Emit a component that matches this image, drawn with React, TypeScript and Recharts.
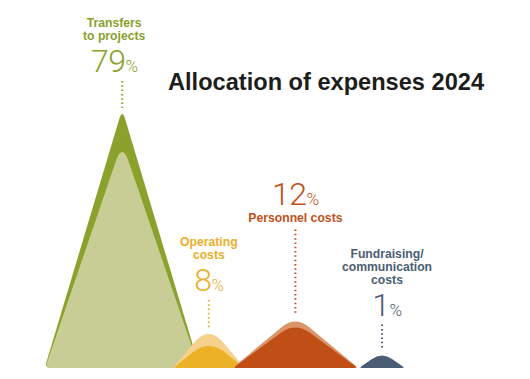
import React from 'react';
import { BarChart, Bar, XAxis, YAxis, LabelList } from 'recharts';

// ---- data ----
const categories = [
  'Transfers\nto projects',
  'Operating\ncosts',
  'Personnel costs',
  'Fundraising/\ncommunication\ncosts',
];
const shares = [79, 8, 12, 1];
const title = 'Allocation of expenses 2024';

const data = categories.map((name, i) => ({ name, share: shares[i] }));

// ---- styles (per category) ----
const STYLES = [
  { outer: '#8aa22b', inner: '#c8cd95', text: '#8a9f2c', hw: 77.5, tip: 10, corner: 6, innerDepth: 38, innerTip: 20, leader: 27, labelDx: -8, numberFirst: false },
  { outer: '#f5d18c', inner: '#ebb127', text: '#e9af2a', hw: 36, tip: 22, corner: 4, innerDepth: 12, innerTip: 22, leader: 28, labelDx: 0, numberFirst: false },
  { outer: '#db9569', inner: '#bf4f17', text: '#c0501a', hw: 63, tip: 18, corner: 4, innerDepth: 6, innerTip: 18, leader: 86, labelDx: 0, numberFirst: true },
  { outer: '#4a5d74', inner: null, text: '#4b5d73', hw: 23, tip: 14, corner: 3, innerDepth: 0, innerTip: 0, leader: 25, labelDx: 5, numberFirst: false },
];

const BOLD_FONT = '"Liberation Sans", Arial, Helvetica, sans-serif';
const LIGHT_FONT = 'Roboto, "Open Sans", sans-serif';

function mountainPath(cx: number, top: number, bottom: number, hw: number, tipR: number, cornerR: number) {
  let apexY = top;
  for (let i = 0; i < 4; i++) {
    const h = bottom - apexY;
    const len = Math.hypot(hw, h);
    const t = Math.min(tipR, len * 0.45);
    apexY = top - 0.5 * t * (h / len);
  }
  const h = bottom - apexY;
  const len = Math.hypot(hw, h);
  const ux = hw / len;
  const uy = h / len;
  const t = Math.min(tipR, len * 0.45);
  const c = Math.min(cornerR, len * 0.3, hw * 0.4);
  const Lx = cx - hw;
  const Rx = cx + hw;
  const f = (n: number) => n.toFixed(2);
  return [
    `M${f(Lx + c)},${f(bottom)}`,
    `Q${f(Lx)},${f(bottom)} ${f(Lx + c * ux)},${f(bottom - c * uy)}`,
    `L${f(cx - t * ux)},${f(apexY + t * uy)}`,
    `Q${f(cx)},${f(apexY)} ${f(cx + t * ux)},${f(apexY + t * uy)}`,
    `L${f(Rx - c * ux)},${f(bottom - c * uy)}`,
    `Q${f(Rx)},${f(bottom)} ${f(Rx - c)},${f(bottom)}`,
    'Z',
  ].join(' ');
}

const MountainShape = (props: any) => {
  const { x, y, width, height, index, background } = props;
  const s = STYLES[index] || STYLES[0];
  const cx = x + width / 2;
  const bottom = background && background.height ? background.y + background.height : y + height;
  return (
    <g>
      <path d={mountainPath(cx, y, bottom, s.hw, s.tip, s.corner)} fill={s.outer} />
      {s.inner ? (
        <path d={mountainPath(cx, y + s.innerDepth, bottom, s.hw - 0.5, s.innerTip, s.corner)} fill={s.inner} />
      ) : null}
    </g>
  );
};

const renderLabel = (props: any) => {
  const vb = props.viewBox && props.viewBox.width !== undefined ? props.viewBox : props;
  let idx = typeof props.index === 'number' ? props.index : shares.indexOf(Number(props.value));
  if (idx < 0) idx = 0;
  const s = STYLES[idx];
  const cx = vb.x + vb.width / 2;
  const top = vb.y;
  const leaderBottom = top - 6;
  const leaderTop = leaderBottom - s.leader;
  const lx = cx + s.labelDx;
  const lines = categories[idx].split('\n');
  const lineH = 13;
  const numEl = (baseline: number) => (
    <text x={lx} y={baseline} textAnchor="middle" fill={s.text} fontFamily={LIGHT_FONT} fontWeight={300} fontSize={32} letterSpacing={-0.5}>
      {shares[idx]}
      <tspan fontSize={17}>%</tspan>
    </text>
  );
  const nameEls = (lastBaseline: number) =>
    lines.map((ln, i) => (
      <text key={i} x={lx} y={lastBaseline - (lines.length - 1 - i) * lineH} textAnchor="middle" fill={s.text} fontFamily={BOLD_FONT} fontWeight={700} fontSize={12.2}>
        {ln}
      </text>
    ));
  let content;
  if (s.numberFirst) {
    const nameBase = leaderTop - 8;
    content = (
      <g>
        {numEl(nameBase - 17)}
        {nameEls(nameBase)}
      </g>
    );
  } else {
    const numBase = leaderTop - 9;
    content = (
      <g>
        {nameEls(numBase - 32)}
        {numEl(numBase)}
      </g>
    );
  }
  return (
    <g>
      <line x1={cx} x2={cx} y1={leaderTop} y2={leaderBottom} stroke={s.text} strokeWidth={2} strokeDasharray="1.5 2.8" />
      {content}
    </g>
  );
};

export default function App() {
  return (
    <div style={{ position: 'fixed', left: 0, top: 0, width: 530, height: 379, background: '#fff' }}>
      <BarChart
        width={530}
        height={379}
        data={data}
        margin={{ top: 114, right: 104.9, bottom: 11, left: 78.7 }}
        barCategoryGap={0}
      >
        <XAxis dataKey="name" type="category" hide />
        <YAxis type="number" domain={[-3, 79]} allowDataOverflow hide />
        <Bar dataKey="share" isAnimationActive={false} shape={MountainShape}>
          <LabelList dataKey="share" content={renderLabel} />
        </Bar>
      </BarChart>
      <svg width={530} height={379} style={{ position: 'absolute', left: 0, top: 0, pointerEvents: 'none' }}>
        <text x={168} y={90} fill="#1d1d1b" fontFamily={BOLD_FONT} fontWeight={700} fontSize={23.6}>
          {title}
        </text>
      </svg>
    </div>
  );
}
